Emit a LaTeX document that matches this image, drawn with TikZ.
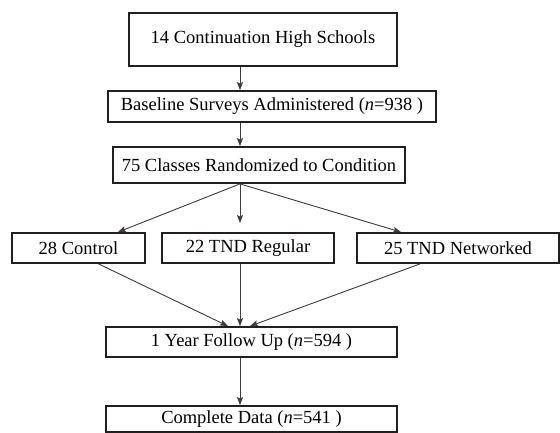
\documentclass[tikz,border=0pt]{standalone}
\usepackage{fontspec}
\setmainfont{Liberation Serif}
\usepackage{tikz}
\usetikzlibrary{arrows.meta}
\definecolor{boxline}{RGB}{35, 31, 32}
\definecolor{arrline}{RGB}{60, 60, 60}
\tikzset{
  stagebox/.style={draw=boxline, line width=1.8pt, inner sep=0pt, align=center,
                   font=\fontsize{18.5}{22}\selectfont},
  flowarrow/.style={draw=arrline, line width=0.9pt, -{Stealth[length=8pt, width=6pt, inset=1.5pt]}}
}

\begin{document}
\begin{tikzpicture}[x=1pt, y=-1pt]
            \useasboundingbox (0, 0) rectangle (560, 432);
            % Spine of the chart
            \coordinate (spine) at (240, 0);
            % Sample stages
            \node[stagebox, minimum width=268pt, minimum height=53pt] (schools)   at (263.0,  39.5) {14 Continuation High Schools};
            \node[stagebox, minimum width=328pt, minimum height=31pt] (baseline)  at (272.0, 106.5) {Baseline Surveys Administered (\textit{n}=938 )};
            \node[stagebox, minimum width=292pt, minimum height=36pt] (classes)   at (259.0, 165.0) {75 Classes Randomized to Condition};
            % Conditions
            \node[stagebox, minimum width=133pt, minimum height=30pt] (control)   at ( 78.5, 248.0) {28 Control};
            \node[stagebox, minimum width=172pt, minimum height=30pt] (regular)   at (248.0, 248.0) {22 TND Regular};
            \node[stagebox, minimum width=202pt, minimum height=30pt] (networked) at (458.0, 248.0) {25 TND Networked};
            % Follow up
            \node[stagebox, minimum width=291pt, minimum height=30pt] (followup)  at (251.5, 342.0) {1 Year Follow Up (\textit{n}=594 )};
            \node[stagebox, minimum width=291pt, minimum height=26pt] (complete)  at (251.5, 419.0) {Complete Data (\textit{n}=541 )};
            % Connectors
            \coordinate (fork) at (classes.south -| spine);
            \draw[flowarrow] (schools.south -| spine)          -- (baseline.north -| spine);
            \draw[flowarrow] (baseline.south -| spine)         -- (classes.north -| spine);
            \draw[flowarrow] (fork)                            -- ([xshift=-28pt]control.north east);
            \draw[flowarrow, shorten >=9pt] (fork)             -- (regular.north -| spine);
            \draw[flowarrow] (fork)                            -- ([xshift=45pt]networked.north west);
            \draw[flowarrow] ([xshift=20pt]control.south)      -- ([xshift=-23.5pt]followup.north);
            \draw[flowarrow] (regular.south -| spine)          -- (followup.north -| spine);
            \draw[flowarrow] ([xshift=-38pt]networked.south)   -- ([xshift=-1.5pt]followup.north);
            \draw[flowarrow] (followup.south -| spine)         -- (complete.north -| spine);
        \end{tikzpicture}
\end{document}
